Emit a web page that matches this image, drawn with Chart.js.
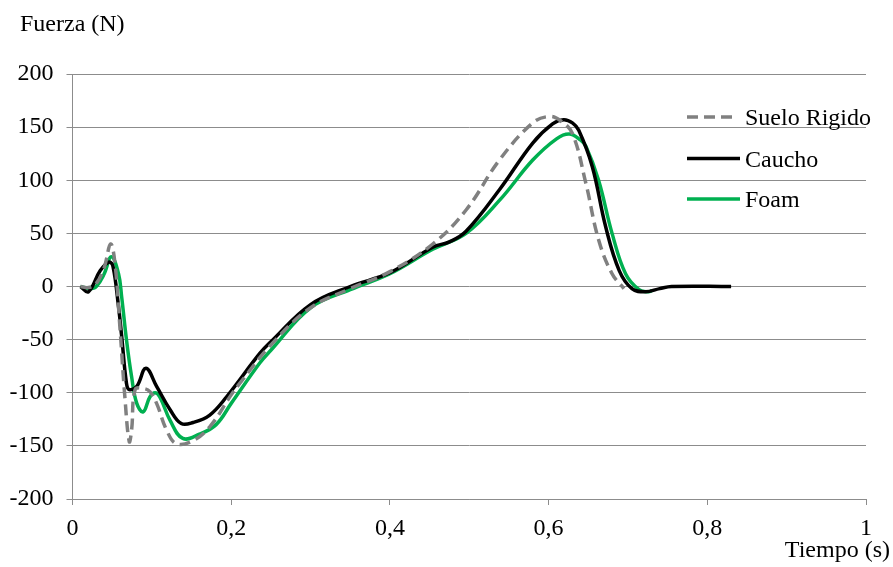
<!DOCTYPE html>
<html>
<head>
<meta charset="utf-8">
<script src="https://cdn.jsdelivr.net/npm/chart.js@4.4.1/dist/chart.umd.min.js"></script>
<style>
  html, body { margin: 0; padding: 0; background: #fff; }
  #wrap { width: 893px; height: 567px; position: relative; }
</style>
</head>
<body>
<div id="wrap"><canvas id="c" width="893" height="567"></canvas></div>
<script>
// ---- Data ----
const seriesNames = ["Suelo Rigido", "Caucho", "Foam"];
const xTicks = [0, 0.2, 0.4, 0.6, 0.8, 1];
const yTicks = [-200, -150, -100, -50, 0, 50, 100, 150, 200];
const axisTitleY = "Fuerza (N)";
const axisTitleX = "Tiempo (s)";

const rigidoT = [0.01, 0.02, 0.03, 0.04, 0.048, 0.0535, 0.06, 0.066, 0.0715, 0.0745, 0.079, 0.089, 0.0975, 0.106, 0.1185, 0.131, 0.152, 0.173, 0.2, 0.211, 0.25, 0.3, 0.35, 0.4, 0.454, 0.496, 0.538, 0.58, 0.601, 0.615, 0.63, 0.647, 0.663, 0.68, 0.695];
const rigidoF = [0, -1, 3, 18, 40, 22, -41, -104, -146, -135, -97, -96, -99, -110, -135, -148, -145, -132, -102, -91, -55, -20, -2, 14, 40, 72, 119, 154, 160, 156, 144, 97, 44, 12, -2];

const cauchoT = [0.01, 0.02, 0.035, 0.046, 0.051, 0.058, 0.062, 0.068, 0.0715, 0.081, 0.0925, 0.106, 0.123, 0.137, 0.152, 0.173, 0.194, 0.236, 0.25, 0.3, 0.35, 0.4, 0.454, 0.475, 0.496, 0.538, 0.58, 0.605, 0.619, 0.63, 0.638, 0.655, 0.672, 0.689, 0.705, 0.722, 0.74, 0.755, 0.83];
const cauchoF = [0, -5, 15, 23, 19, -19, -47, -91, -97, -94, -77, -94, -116, -129, -128, -121, -104, -63, -52, -17, 0, 13, 37, 42, 52, 91, 135, 153, 157, 154, 147, 113, 56, 15, -2, -5, -2, 0, 0];

const foamT = [0.01, 0.022, 0.03, 0.04, 0.049, 0.058, 0.062, 0.068, 0.0745, 0.081, 0.089, 0.0975, 0.104, 0.11, 0.123, 0.139, 0.16, 0.181, 0.2, 0.236, 0.25, 0.3, 0.35, 0.4, 0.454, 0.496, 0.538, 0.58, 0.61, 0.626, 0.64, 0.647, 0.663, 0.68, 0.697, 0.714, 0.726, 0.73];
const foamF = [0, -2, 0, 12, 28, 12, -10, -50, -85, -110, -118, -104, -100, -104, -126, -143, -139, -130, -110, -72, -60, -20, -3, 12, 35, 50, 81, 119, 139, 143.5, 138, 132, 100, 50, 12, -3, -5, -4];

function pts(t, f) { return t.map((x, i) => ({ x: x, y: f[i] })); }

const FONT = "'Liberation Serif', 'Times New Roman', serif";
const GRID = '#8c8c8c';

const legendAndTitles = {
  id: 'legendAndTitles',
  afterDraw(chart) {
    const ctx = chart.ctx;
    ctx.save();
    ctx.fillStyle = '#000';
    ctx.font = '24px ' + FONT;
    ctx.textBaseline = 'alphabetic';
    ctx.textAlign = 'left';
    ctx.fillText(axisTitleY, 20, 31);
    ctx.textAlign = 'right';
    ctx.fillText(axisTitleX, 890, 557);
    // legend
    const rows = [117, 158.5, 199];
    const bases = [125, 167, 207];
    chart.data.datasets.forEach((ds, i) => {
      ctx.beginPath();
      ctx.strokeStyle = ds.borderColor;
      ctx.lineWidth = ds.borderWidth;
      ctx.setLineDash(ds.borderDash || []);
      ctx.lineCap = 'butt';
      ctx.moveTo(687, rows[i]);
      ctx.lineTo(i === 0 ? 734 : 740, rows[i]);
      ctx.stroke();
      ctx.setLineDash([]);
      ctx.textAlign = 'left';
      ctx.fillStyle = '#000';
      ctx.fillText(ds.label, 745, bases[i]);
    });
    ctx.restore();
  }
};

new Chart(document.getElementById('c'), {
  type: 'line',
  data: {
    datasets: [
      { label: seriesNames[0], data: pts(rigidoT, rigidoF), borderColor: '#808080', borderWidth: 3.5, borderDash: [11, 6], pointRadius: 0, fill: false, tension: 0.4 },
      { label: seriesNames[1], data: pts(cauchoT, cauchoF), borderColor: '#000000', borderWidth: 3.5, pointRadius: 0, fill: false, tension: 0.4 },
      { label: seriesNames[2], data: pts(foamT, foamF), borderColor: '#00b050', borderWidth: 3.5, pointRadius: 0, fill: false, tension: 0.4 }
    ]
  },
  options: {
    responsive: false,
    animation: false,
    events: [],
    layout: { padding: { top: 74, right: 27, bottom: 0, left: 0 } },
    plugins: { legend: { display: false }, tooltip: { enabled: false }, title: { display: false } },
    scales: {
      x: {
        type: 'linear', min: 0, max: 1,
        afterBuildTicks(scale) { scale.ticks = xTicks.map(v => ({ value: v })); },
        afterFit(scale) { scale.height = 68; },
        ticks: {
          color: '#000', font: { family: FONT, size: 24 }, padding: 9, maxRotation: 0, autoSkip: false,
          callback: v => String(v).replace('.', ',')
        },
        grid: { display: true, drawOnChartArea: false, drawTicks: true, tickLength: 6, color: GRID, lineWidth: 1 },
        border: { display: true, color: GRID, width: 1 }
      },
      y: {
        type: 'linear', min: -200, max: 200,
        afterBuildTicks(scale) { scale.ticks = yTicks.map(v => ({ value: v })); },
        afterFit(scale) { scale.width = 72.5; },
        ticks: { color: '#000', font: { family: FONT, size: 24 }, padding: 13, autoSkip: false },
        grid: { display: true, drawOnChartArea: true, drawTicks: true, tickLength: 6, color: GRID, lineWidth: 1 },
        border: { display: true, color: GRID, width: 1 }
      }
    }
  },
  plugins: [legendAndTitles]
});
</script>
</body>
</html>
